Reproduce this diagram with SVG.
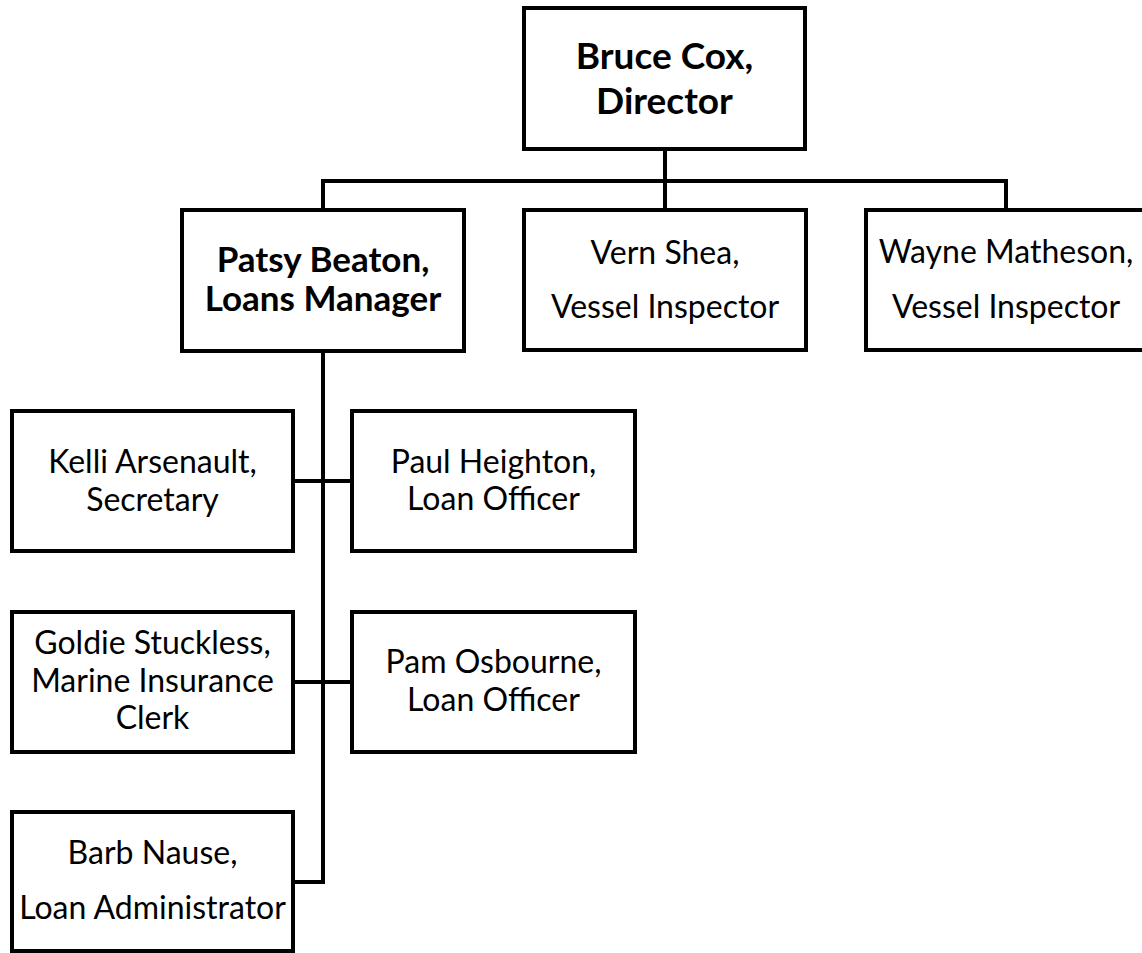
<svg xmlns="http://www.w3.org/2000/svg" width="1142" height="953" viewBox="0 0 1142 953">
<style>
.box{fill:#fff;stroke:#000;stroke-width:4}
.con{fill:none;stroke:#000;stroke-width:4}
text{font-family:Lato,"Liberation Sans",sans-serif;font-size:32px;fill:#000;text-anchor:middle}
.b{font-weight:bold;font-size:35px}
.bt{font-size:37px}
</style>
<rect width="1142" height="953" fill="#fff"/>
<g id="connectors">
<path class="con" d="M665 149V181M323 210V181H1006V210M665 181V210"/>
<path class="con" d="M323 351V882H293"/>
<path class="con" d="M293 481H352M293 682H352"/>
</g>
<g id="bruce"><rect class="box" x="524" y="8" width="281" height="141"/><text class="b bt" x="664.5" y="69">Bruce Cox,</text><text class="b bt" x="664.5" y="114">Director</text></g>
<g id="patsy"><rect class="box" x="182" y="210" width="282" height="141"/><text class="b" x="323" y="272">Patsy Beaton,</text><text class="b" x="323" y="311">Loans Manager</text></g>
<g id="vern"><rect class="box" x="524" y="210" width="282" height="140"/><text x="665" y="264">Vern Shea,</text><text x="665" y="318">Vessel Inspector</text></g>
<g id="wayne"><rect class="box" x="866" y="210" width="280" height="140"/><text x="1006" y="263">Wayne Matheson,</text><text x="1006" y="318">Vessel Inspector</text></g>
<g id="kelli"><rect class="box" x="12" y="411" width="281" height="140"/><text x="152.5" y="473">Kelli Arsenault,</text><text x="152.5" y="511">Secretary</text></g>
<g id="paul"><rect class="box" x="352" y="411" width="283" height="140"/><text x="493.5" y="473">Paul Heighton,</text><text x="493.5" y="510">Loan Officer</text></g>
<g id="goldie"><rect class="box" x="12" y="612" width="281" height="140"/><text x="152.5" y="654">Goldie Stuckless,</text><text x="152.5" y="692">Marine Insurance</text><text x="152.5" y="729">Clerk</text></g>
<g id="pam"><rect class="box" x="352" y="612" width="283" height="140"/><text x="493.5" y="673">Pam Osbourne,</text><text x="493.5" y="711">Loan Officer</text></g>
<g id="barb"><rect class="box" x="12" y="812" width="281" height="139"/><text x="152.5" y="864">Barb Nause,</text><text x="152.5" y="919">Loan Administrator</text></g>
</svg>
